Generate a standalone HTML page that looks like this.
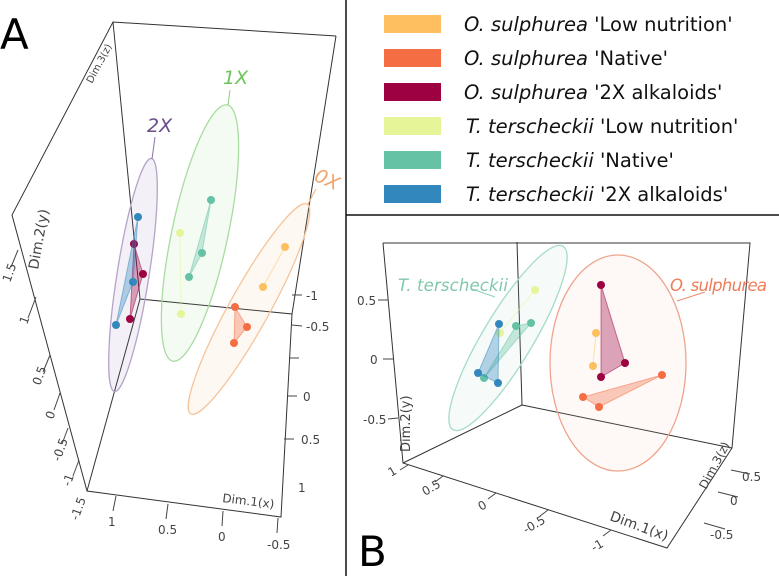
<!DOCTYPE html>
<html><head><meta charset="utf-8"><style>
html,body{margin:0;padding:0;background:#fff;}
svg{display:block;font-family:"DejaVu Sans","Liberation Sans",sans-serif;}
</style></head><body>
<svg id="fig" width="779" height="576" viewBox="0 0 779 576">
<g id="frame">
<line x1="346" y1="0" x2="346" y2="576" stroke="#111" stroke-width="1.5"/>
<line x1="346" y1="215" x2="779" y2="215" stroke="#111" stroke-width="1.5"/>
</g>
<text x="0" y="49" font-size="42" fill="#000">A</text>
<text x="358" y="566" font-size="42" fill="#000">B</text>

<g id="boxA" stroke="#333" stroke-width="1" fill="none">
<polyline points="336,36 113,22 12,215 87,491 281,517 292,314 140,299 113,22"/>
<line x1="336" y1="36" x2="292" y2="314"/>
<line x1="140" y1="299" x2="87" y2="491"/>
</g>
<g stroke="#444" stroke-width="1" fill="none">
<line x1="18" y1="250" x2="11" y2="267"/><line x1="36" y1="297" x2="28" y2="318"/>
<line x1="50" y1="355" x2="43" y2="372"/><line x1="60" y1="393" x2="54" y2="410"/>
<line x1="68" y1="428" x2="62" y2="444"/><line x1="79" y1="460" x2="73" y2="476"/>
<line x1="116" y1="496" x2="113" y2="511"/><line x1="168" y1="504" x2="166" y2="519"/>
<line x1="223" y1="511" x2="222" y2="526"/><line x1="278" y1="518" x2="277" y2="533"/>
<line x1="292" y1="295" x2="302" y2="295"/><line x1="292" y1="325" x2="302" y2="326"/>
<line x1="289" y1="358" x2="299" y2="358"/><line x1="287" y1="396" x2="297" y2="396"/>
<line x1="284" y1="439" x2="294" y2="439"/>
</g>
<g font-size="12" fill="#444">
<text transform="translate(10,283) rotate(-70)">1.5</text>
<text transform="translate(27,325) rotate(-70)">1</text>
<text transform="translate(40,386) rotate(-70)">0.5</text>
<text transform="translate(53,420) rotate(-70)">0</text>
<text transform="translate(60,462) rotate(-70)">-0.5</text>
<text transform="translate(70,487) rotate(-70)">-1</text>
<text transform="translate(78,521) rotate(-70)">-1.5</text>
<text x="108" y="526">1</text><text x="158" y="534">0.5</text>
<text x="218" y="541">0</text><text x="267" y="549">-0.5</text>
<text x="306" y="300">-1</text><text x="306" y="331">-0.5</text>
<text x="303" y="401">0</text><text x="301" y="444">0.5</text><text x="298" y="492">1</text>
<text transform="translate(222,502) rotate(7)" font-size="12">Dim.1(x)</text>
<text transform="translate(38,270) rotate(-80)" font-size="14">Dim.2(y)</text>
<text transform="translate(92,84) rotate(-62)" font-size="10">Dim.3(z)</text>
</g>

<g id="boxB" stroke="#333" stroke-width="1" fill="none">
<polyline points="383,243 750,243 732,448 667,548 403,463 383,243"/>
<line x1="517" y1="242" x2="522" y2="405"/>
<line x1="522" y1="405" x2="403" y2="463"/>
<line x1="522" y1="405" x2="732" y2="448"/>
</g>
<g stroke="#444" stroke-width="1">
<line x1="388" y1="300" x2="378" y2="300"/><line x1="393" y1="359" x2="383" y2="359"/>
<line x1="398" y1="418" x2="388" y2="419"/>
<line x1="408" y1="465" x2="400" y2="470"/><line x1="443" y1="476" x2="435" y2="482"/>
<line x1="496" y1="493" x2="488" y2="499"/><line x1="548" y1="510" x2="540" y2="516"/>
<line x1="611" y1="530" x2="603" y2="536"/>
<line x1="731" y1="470" x2="750" y2="474"/><line x1="718" y1="492" x2="738" y2="497"/>
<line x1="704" y1="523" x2="725" y2="529"/>
</g>
<g font-size="12" fill="#444">
<text x="357" y="305">0.5</text><text x="370" y="364">0</text><text x="363" y="424">-0.5</text>
<text transform="translate(391,477) rotate(-30)">1</text>
<text transform="translate(425,496) rotate(-30)">0.5</text>
<text transform="translate(481,511) rotate(-30)">0</text>
<text transform="translate(526,534) rotate(-30)">-0.5</text>
<text transform="translate(594,552) rotate(-30)">-1</text>
<text x="742" y="481">0.5</text><text x="730" y="505">0</text><text x="710" y="539">-0.5</text>
<text transform="translate(609,520) rotate(20)" font-size="14">Dim.1(x)</text>
<text transform="translate(410,452) rotate(-90)" font-size="13">Dim.2(y)</text>
<text transform="translate(706,490) rotate(-62)" font-size="12">Dim.3(z)</text>
</g>

<g id="marks"></g>

<g font-size="19" font-style="italic">
<text x="147" y="132" fill="#6b4c8a">2X</text>
<line x1="155" y1="137" x2="152" y2="159" stroke="#8a75a8"/>
<text x="223" y="84" fill="#6cc55a">1X</text>
<line x1="230" y1="90" x2="228" y2="105" stroke="#8ccf80"/>
<text transform="translate(313,180) rotate(25)" fill="#f2a36a">0X</text>
<line x1="316" y1="189" x2="308" y2="204" stroke="#f2b07a"/>
</g>
<g font-size="16.5" font-style="italic">
<text x="398" y="291" fill="#7fc8ab" textLength="110">T. terscheckii</text>
<line x1="472" y1="289" x2="495" y2="297" stroke="#8fd0b6"/>
<text x="670" y="291" fill="#ee7d5a" textLength="97">O. sulphurea</text>
<line x1="705" y1="292" x2="677" y2="301" stroke="#ee8c6e"/>
</g>

<g id="legend" font-size="19.5" fill="#111"></g>
</svg>
<script>
// legend
const legendSpecies = ["O. sulphurea","O. sulphurea","O. sulphurea","T. terscheckii","T. terscheckii","T. terscheckii"];
const legendTreat = [" 'Low nutrition'"," 'Native'"," '2X alkaloids'"," 'Low nutrition'"," 'Native'"," '2X alkaloids'"];
const groupColors = ["#fdbf5f","#f46d43","#9e0142","#e6f598","#66c2a5","#3288bd"];

// panel A projected coordinates (plot units) per group: gold, orange, darkred, lightyellow, teal, blue
const aGoldX=[0.85,0.63], aGoldY=[0.33,-0.07];
const aOrangeX=[0.35,0.47,0.34], aOrangeY=[-0.27,-0.47,-0.63];
const aRedX=[-0.66,-0.57,-0.70], aRedY=[0.36,0.06,-0.39];
const aLightX=[-0.20,-0.19], aLightY=[0.47,-0.34];
const aTealX=[0.11,0.02,-0.11], aTealY=[0.80,0.27,0.03];
const aBlueX=[-0.62,-0.67,-0.84], aBlueY=[0.63,-0.02,-0.45];
// panel B
const bGoldX=[0.36,0.33], bGoldY=[0.27,-0.06];
const bOrangeX=[1.02,0.23,0.39], bOrangeY=[-0.15,-0.37,-0.47];
const bRedX=[0.41,0.65,0.41], bRedY=[0.75,-0.03,-0.17];
const bLightX=[-0.25,-0.60], bLightY=[0.70,0.27];
const bTealX=[-0.76,-0.44,-0.29], bTealY=[-0.18,0.34,0.37];
const bBlueX=[-0.61,-0.82,-0.62], bBlueY=[0.36,-0.13,-0.23];
// ellipses: center x, center y, semi-minor, semi-major (plot units), tilt (deg)
const aEllCX=[-0.67,0.00,0.49], aEllCY=[0.05,0.47,-0.29], aEllMinor=[0.16,0.28,0.20], aEllMajor=[1.18,1.31,1.20], aEllTilt=[9,12,29];
const bEllCX=[-0.52,0.58], bEllCY=[0.22,-0.03], bEllMinor=[0.25,0.68], bEllMajor=[1.07,1.08], bEllTilt=[31,0];

const NS="http://www.w3.org/2000/svg";
const ax=v=>200+v*100, ay=v=>280-v*100;
const bx=v=>560+v*100, by=v=>360-v*100;
const marks=document.getElementById('marks');
function mk(tag,attrs){const e=document.createElementNS(NS,tag);for(const k in attrs)e.setAttribute(k,attrs[k]);return e;}

const aEllStroke=["#b6a3c8","#a8dca0","#f6c49a"], aEllFill=["#8a70b0","#8fd58a","#f7b68a"];
for(let i=0;i<aEllCX.length;i++){
  const e=mk('ellipse',{cx:0,cy:0,rx:aEllMinor[i]*100,ry:aEllMajor[i]*100,fill:aEllFill[i],'fill-opacity':0.1,stroke:aEllStroke[i],'stroke-width':1.3,transform:`translate(${ax(aEllCX[i])},${ay(aEllCY[i])}) rotate(${aEllTilt[i]})`});
  
  
  marks.appendChild(e);
}
const bEllStroke=["#a6dcc6","#eea48c"], bEllFill=["#a6dcc6","#f7c2ae"];
for(let i=0;i<bEllCX.length;i++){
  const e=mk('ellipse',{cx:0,cy:0,rx:bEllMinor[i]*100,ry:bEllMajor[i]*100,fill:bEllFill[i],'fill-opacity':0.1,stroke:bEllStroke[i],'stroke-width':1.3,transform:`translate(${bx(bEllCX[i])},${by(bEllCY[i])}) rotate(${bEllTilt[i]})`});
  
  
  marks.appendChild(e);
}

function drawGroup(xs,ys,sx,sy,col,r){
  const pts=xs.map((v,i)=>sx(v)+','+sy(ys[i])).join(' ');
  const poly=mk('polygon',{points:pts,fill:col,'fill-opacity':0.35,stroke:col,'stroke-opacity':0.5,'stroke-width':1});
  
  
  marks.appendChild(poly);
  xs.forEach((v,i)=>{
    const c=mk('circle',{cx:sx(v),cy:sy(ys[i]),r:r,fill:col});
    
    
    marks.appendChild(c);
  });
}
const aX=[aGoldX,aOrangeX,aRedX,aLightX,aTealX,aBlueX], aY=[aGoldY,aOrangeY,aRedY,aLightY,aTealY,aBlueY];
const bX=[bGoldX,bOrangeX,bRedX,bLightX,bTealX,bBlueX], bY=[bGoldY,bOrangeY,bRedY,bLightY,bTealY,bBlueY];
for(let g=0;g<6;g++){drawGroup(aX[g],aY[g],ax,ay,groupColors[g],4);}
for(let g=0;g<6;g++){drawGroup(bX[g],bY[g],bx,by,groupColors[g],4);}

const lg=document.getElementById('legend');
for(let i=0;i<6;i++){
  const y=15+i*34;
  const r=mk('rect',{x:384,y:y,width:57,height:18,fill:groupColors[i]});
  
  
  lg.appendChild(r);
  const t=mk('text',{x:i<3?464:466,y:y+16});
  
  
  const s=mk('tspan',{'font-style':'italic'});s.textContent=legendSpecies[i];
  const s2=mk('tspan',{});s2.textContent=legendTreat[i];
  t.appendChild(s);t.appendChild(s2);lg.appendChild(t);
}
</script>
</body></html>
